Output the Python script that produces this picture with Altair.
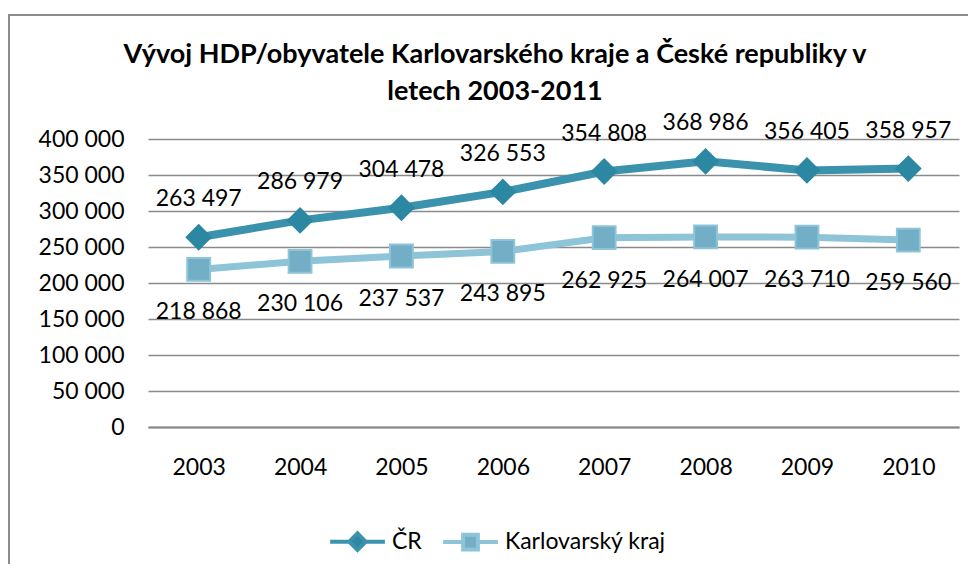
import altair as alt
import pandas as pd

years = ["2003", "2004", "2005", "2006", "2007", "2008", "2009", "2010"]
cr_values = [263497, 286979, 304478, 326553, 354808, 368986, 356405, 358957]
kv_values = [218868, 230106, 237537, 243895, 262925, 264007, 263710, 259560]
series_names = ["ČR", "Karlovarský kraj"]
y_ticks = [0, 50000, 100000, 150000, 200000, 250000, 300000, 350000, 400000]
title_line1 = "Vývoj HDP/obyvatele Karlovarského kraje a České republiky v"
title_line2 = "letech 2003-2011"

CR_LINE = "#3B92AD"
CR_MARK = "#2C87A2"
KV_LINE = "#8DC4D7"
KV_MARK = "#72AEC5"
FONT = "Lato"

df = pd.DataFrame({
    "year": years * 2,
    "value": cr_values + kv_values,
    "series": [series_names[0]] * len(years) + [series_names[1]] * len(years),
})
one_row = pd.DataFrame({"k": [0]})

x_enc = alt.X("year:O", title=None,
              scale=alt.Scale(type="point", padding=0.5),
              axis=alt.Axis(labelAngle=0, labelFontSize=23, labelFont=FONT, labelColor="#000000",
                            labelPadding=29, ticks=False, domain=True, domainColor="#868686",
                            domainWidth=2, grid=False))
y_enc = alt.Y("value:Q", title=None,
              scale=alt.Scale(domain=[0, 400000], nice=False),
              axis=alt.Axis(values=y_ticks, tickCount=20, labelOverlap=False,
                            labelFontSize=23, labelFont=FONT, labelColor="#000000",
                            labelPadding=24, ticks=False, domain=False, gridColor="#8A8A8A",
                            gridWidth=1.5,
                            labelExpr="replace(format(datum.value, ','), ',', ' ')"))

base = alt.Chart(df).encode(x=x_enc, y=y_enc)

cr = base.transform_filter(alt.datum.series == series_names[0])
kv = base.transform_filter(alt.datum.series == series_names[1])

cr_line = cr.mark_line(color=CR_LINE, strokeWidth=8)
kv_line = kv.mark_line(color=KV_LINE, strokeWidth=7)
cr_pts = cr.mark_point(shape="diamond", filled=True, size=720, color=CR_MARK, opacity=1)
kv_pts = kv.mark_point(shape="square", filled=True, size=520, color=KV_MARK, opacity=1,
                       stroke=KV_LINE, strokeWidth=2)

label_expr = "replace(format(datum.value, ','), ',', ' ')"
cr_text = cr.transform_calculate(lbl=label_expr).mark_text(
    dy=-38, fontSize=23, font=FONT, color="#000000", baseline="middle").encode(text="lbl:N")
kv_text = kv.transform_calculate(lbl=label_expr).mark_text(
    dy=43, fontSize=23, font=FONT, color="#000000", baseline="middle").encode(text="lbl:N")

legend_shapes = [
    "M-1,0L-0.3,0M0.3,0L1,0M-0.3,0L0,-0.3L0.3,0L0,0.3Z",
    "M-1,0L-0.27,0M0.27,0L1,0M-0.27,-0.27L0.27,-0.27L0.27,0.27L-0.27,0.27Z",
]
legend_layer = alt.Chart(df).transform_filter("datum.value < 0").mark_point(
    filled=True, strokeWidth=4, opacity=1
).encode(
    fill=alt.Fill("series:N", scale=alt.Scale(domain=series_names, range=[CR_MARK, KV_MARK]),
                  legend=alt.Legend(title=None, orient="none", direction="horizontal",
                                    legendX=180, legendY=373,
                                    labelFontSize=23, labelFont=FONT, labelColor="#000000",
                                    labelLimit=400,
                                    symbolSize=3000, symbolStrokeWidth=4, columnPadding=13,
                                    labelOffset=5, symbolOpacity=1)),
    stroke=alt.Stroke("series:N", scale=alt.Scale(domain=series_names, range=[CR_LINE, KV_LINE]),
                      legend=alt.Legend(title=None)),
    shape=alt.Shape("series:N", scale=alt.Scale(domain=series_names, range=legend_shapes),
                    legend=alt.Legend(title=None)),
)

title_style = dict(fontSize=27, font=FONT, fontWeight="bold", color="#000000",
                   baseline="middle", align="center")
title_a = alt.Chart(one_row).mark_text(text=title_line1, **title_style).encode(
    x=alt.value(347), y=alt.value(-84))
title_b = alt.Chart(one_row).mark_text(text=title_line2, **title_style).encode(
    x=alt.value(347), y=alt.value(-47))

frame = alt.Chart(one_row).mark_rect(fill=None, stroke="#8C8C8C", strokeWidth=2).encode(
    x=alt.value(-139), x2=alt.value(900), y=alt.value(-124), y2=alt.value(500)
)

chart = alt.layer(
    frame, title_a, title_b, kv_line, cr_line, kv_pts, cr_pts, cr_text, kv_text, legend_layer
).properties(
    width=811, height=288,
    autosize=alt.AutoSizeParams(type="none"),
    padding={"left": 140, "top": 131, "right": 9, "bottom": 137},
).configure_view(stroke=None)

chart.save("out.html", embed_options={"renderer": "svg", "actions": False})
